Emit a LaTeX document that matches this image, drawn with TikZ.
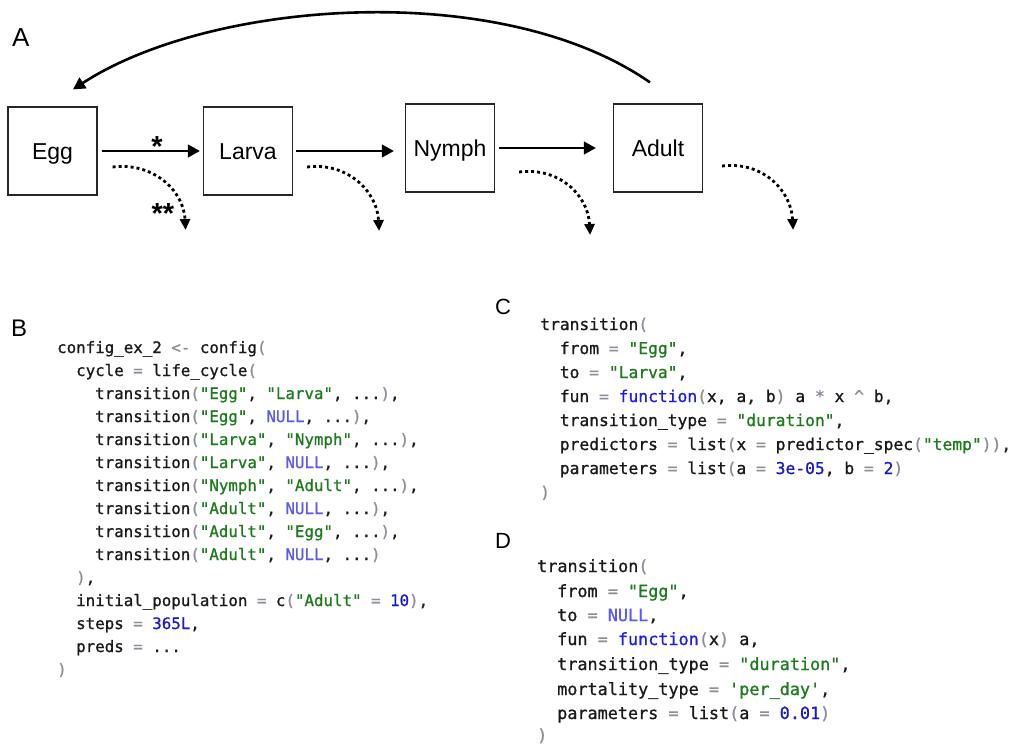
\documentclass[tikz,border=0pt]{standalone}
\usepackage{fontspec}
\setmainfont{Liberation Sans}
\setmonofont[FakeBold=1]{DejaVu Sans Mono}
\usetikzlibrary{arrows.meta}
\definecolor{opgray}{HTML}{8A8F99}
\definecolor{strgreen}{HTML}{1E7B1E}
\definecolor{nullblue}{HTML}{5A5AF5}
\definecolor{fnblue}{HTML}{1C1CF0}
\definecolor{numblue}{HTML}{1A1ACC}
\definecolor{codeblack}{HTML}{1A1A1A}
\newcommand\cOp[1]{\textcolor{opgray}{#1}}
\newcommand\cStr[1]{\textcolor{strgreen}{#1}}
\newcommand\cNul[1]{\textcolor{nullblue}{#1}}
\newcommand\cFn[1]{\textcolor{fnblue}{#1}}
\newcommand\cNum[1]{\textcolor{numblue}{#1}}
\tikzset{
  stage/.style={draw=black!85, line width=1.2pt, minimum width=89pt, minimum height=88pt,
    inner sep=0pt, font=\fontsize{23}{23}\selectfont, text height=16.5pt, text depth=0pt},
  arr/.style={line width=2.6pt, -{Triangle[length=12pt,width=12.5pt]}},
  dotarr/.style={line width=2.8pt, dash pattern=on 3pt off 3pt, -{Triangle[length=11pt,width=10pt]}},
  panel/.style={anchor=base west, inner sep=0pt},
  codeB/.style={anchor=base west, inner sep=0pt, text=codeblack, font=\ttfamily\fontsize{15.8}{19}\selectfont},
  codeC/.style={anchor=base west, inner sep=0pt, text=codeblack, font=\ttfamily\fontsize{16.3}{19}\selectfont},
  codeD/.style={anchor=base west, inner sep=0pt, text=codeblack, font=\ttfamily\fontsize{16.8}{19}\selectfont},
  star/.style={inner sep=0pt, font=\bfseries\fontsize{29}{29}\selectfont}
}
\begin{document}
\begin{tikzpicture}[x=1pt,y=-1pt]
\clip (0,0) rectangle (1027,744);
% panel labels
\node[panel, font=\fontsize{26}{26}\selectfont] (lA) at (12,46) {A};
\node[panel, font=\fontsize{24}{24}\selectfont] (lB) at (11,336) {B};
\node[panel, font=\fontsize{22}{22}\selectfont] (lC) at (495,314) {C};
\node[panel, font=\fontsize{22}{22}\selectfont] (lD) at (495,548) {D};
% stages
\node[stage] (Egg) at (52.5,151) {Egg};
\node[stage] (Larva) at (248,151) {Larva};
\node[stage] (Nymph) at (450,148) {Nymph};
\node[stage] (Adult) at (658,148) {Adult};
% transitions
\draw[arr, shorten <=4pt, shorten >=3pt] (Egg.east) -- (Larva.west);
\draw[arr, shorten <=3pt, shorten >=11pt] (Larva.east) -- (Larva.east -| Nymph.west);
\draw[arr, shorten <=4pt, shorten >=17pt] (Nymph.east) -- (Adult.west);
\draw[arr] ([shift={(-8,-21)}]Adult.north) .. controls (500,-22) and (210,0) .. ([shift={(20.5,-17)}]Egg.north);
\node[star, anchor=base] (s1) at (157,156) {*};
\node[star, anchor=base] (s2) at (163,223) {**};
% mortality
\draw[dotarr] ([shift={(15,16)}]Egg.east) .. controls +(40,-5) and +(-2,-40) .. ++(73,63);
\draw[dotarr] ([shift={(14,16)}]Larva.east) .. controls +(40,-5) and +(-2,-40) .. ++(72,64);
\draw[dotarr] ([shift={(24,24)}]Nymph.east) .. controls +(40,-5) and +(-2,-40) .. ++(71,63);
\draw[dotarr] ([shift={(19,18)}]Adult.east) .. controls +(40,-5) and +(-2,-40) .. ++(71,64);
% code B
\node[codeB] (b1) at (57,353) {config\_ex\_2 \cOp{<-} config\cOp{(}};
\node[codeB] (b2) at (76,376) {cycle \cOp{=} life\_cycle\cOp{(}};
\node[codeB] (b3) at (95,399) {transition\cOp{(}\cStr{"Egg"}, \cStr{"Larva"}, ...\cOp{)},};
\node[codeB] (b4) at (95,422) {transition\cOp{(}\cStr{"Egg"}, \cNul{NULL}, ...\cOp{)},};
\node[codeB] (b5) at (95,445) {transition\cOp{(}\cStr{"Larva"}, \cStr{"Nymph"}, ...\cOp{)},};
\node[codeB] (b6) at (95,468) {transition\cOp{(}\cStr{"Larva"}, \cNul{NULL}, ...\cOp{)},};
\node[codeB] (b7) at (95,491) {transition\cOp{(}\cStr{"Nymph"}, \cStr{"Adult"}, ...\cOp{)},};
\node[codeB] (b8) at (95,514) {transition\cOp{(}\cStr{"Adult"}, \cNul{NULL}, ...\cOp{)},};
\node[codeB] (b9) at (95,537) {transition\cOp{(}\cStr{"Adult"}, \cStr{"Egg"}, ...\cOp{)},};
\node[codeB] (b10) at (95,560) {transition\cOp{(}\cStr{"Adult"}, \cNul{NULL}, ...\cOp{)}};
\node[codeB] (b11) at (76,583) {\cOp{)},};
\node[codeB] (b12) at (76,606) {initial\_population \cOp{=} c\cOp{(}\cStr{"Adult"} \cOp{=} \cNum{10}\cOp{)},};
\node[codeB] (b13) at (76,629) {steps \cOp{=} \cNum{365L},};
\node[codeB] (b14) at (76,652) {preds \cOp{=} ...};
\node[codeB] (b15) at (57,675) {\cOp{)}};
% code C
\node[codeC] (c1) at (540,330) {transition\cOp{(}};
\node[codeC] (c2) at (559.6,354) {from \cOp{=} \cStr{"Egg"},};
\node[codeC] (c3) at (559.6,378) {to \cOp{=} \cStr{"Larva"},};
\node[codeC] (c4) at (559.6,402) {fun \cOp{=} \cFn{function}\cOp{(}x, a, b\cOp{)} a \cOp{*} x \cOp{\textasciicircum} b,};
\node[codeC] (c5) at (559.6,426) {transition\_type \cOp{=} \cStr{"duration"},};
\node[codeC] (c6) at (559.6,450) {predictors \cOp{=} list\cOp{(}x \cOp{=} predictor\_spec\cOp{(}\cStr{"temp"}\cOp{))},};
\node[codeC] (c7) at (559.6,474) {parameters \cOp{=} list\cOp{(}a \cOp{=} \cNum{3e-05}, b \cOp{=} \cNum{2}\cOp{)}};
\node[codeC] (c8) at (540,498) {\cOp{)}};
% code D
\node[codeD] (d1) at (537,572) {transition\cOp{(}};
\node[codeD] (d2) at (557,597) {from \cOp{=} \cStr{"Egg"},};
\node[codeD] (d3) at (557,621) {to \cOp{=} \cNul{NULL},};
\node[codeD] (d4) at (557,645) {fun \cOp{=} \cFn{function}\cOp{(}x\cOp{)} a,};
\node[codeD] (d5) at (557,670) {transition\_type \cOp{=} \cStr{"duration"},};
\node[codeD] (d6) at (557,695) {mortality\_type \cOp{=} \cStr{'per\_day'},};
\node[codeD] (d7) at (557,719) {parameters \cOp{=} list\cOp{(}a \cOp{=} \cNum{0.01}\cOp{)}};
\node[codeD] (d8) at (537,741) {\cOp{)}};
\end{tikzpicture}
\end{document}
